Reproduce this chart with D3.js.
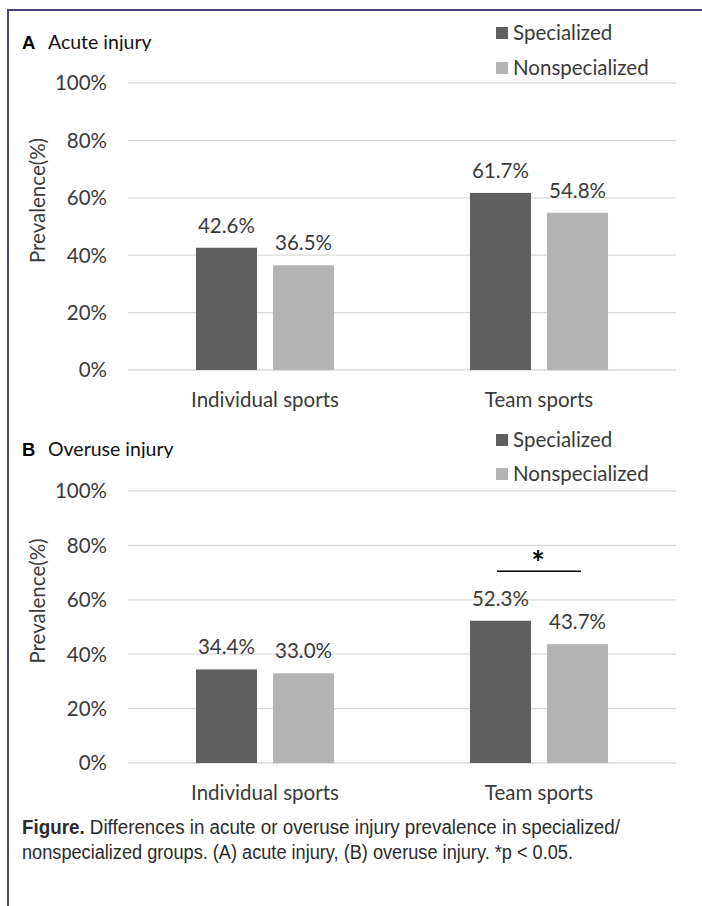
<!DOCTYPE html>
<html>
<head>
<meta charset="utf-8">
<script src="https://cdn.jsdelivr.net/npm/d3@7/dist/d3.min.js"></script>
<style>
  html, body { margin: 0; padding: 0; background: #fff; }
  svg { display: block; }
</style>
</head>
<body>
<svg id="fig" width="702" height="906"></svg>
<script>
// Categories, series and values (prevalence, %)
const categories = ["Individual sports", "Team sports"];
const seriesNames = ["Specialized", "Nonspecialized"];
const acuteSpecialized = [42.6, 61.7];
const acuteNonspecialized = [36.5, 54.8];
const overuseSpecialized = [34.4, 52.3];
const overuseNonspecialized = [33.0, 43.7];
const yTickValues = [0, 20, 40, 60, 80, 100];
const yTickLabels = ["0%", "20%", "40%", "60%", "80%", "100%"];

const colors = { "Specialized": "#5f5f5f", "Nonspecialized": "#b3b3b3" };
const chartFont = "Lato, 'Open Sans', sans-serif";
const textColor = "#3a3a3a";
const fs = 20.5;

const svg = d3.select("#fig");

// Frame: left and top rule
svg.append("path")
  .attr("d", "M8,906 L8,10 L702,10")
  .attr("fill", "none")
  .attr("stroke", "#4b3f7c")
  .attr("stroke-width", 2);

const defs = svg.append("defs");

// Shared horizontal scales
const x0 = d3.scaleBand()
  .domain(categories)
  .range([128, 676])
  .paddingInner(0.496)
  .paddingOuter(0.248);

const x1 = d3.scaleBand()
  .domain(seriesNames)
  .range([0, x0.bandwidth()])
  .paddingInner(0.208);

function drawPanel(cfg) {
  const g = svg.append("g");
  const y = d3.scaleLinear().domain([0, 100]).range([cfg.bottom, cfg.top]);

  // Gridlines
  g.selectAll("line.grid")
    .data(yTickValues)
    .join("line")
    .attr("x1", x0.range()[0])
    .attr("x2", x0.range()[1])
    .attr("y1", d => y(d))
    .attr("y2", d => y(d))
    .attr("stroke", "#d9d9d9")
    .attr("stroke-width", 1.3);

  // Y tick labels
  g.selectAll("text.tick")
    .data(yTickValues)
    .join("text")
    .attr("x", 107)
    .attr("y", d => y(d))
    .attr("dy", "0.36em")
    .attr("text-anchor", "end")
    .attr("font-family", chartFont)
    .attr("font-size", fs)
    .attr("fill", textColor)
    .text((d, i) => yTickLabels[i]);

  // Y axis title
  const midY = (cfg.top + cfg.bottom) / 2 - 26;
  g.append("text")
    .attr("transform", `translate(45,${midY}) rotate(-90)`)
    .attr("text-anchor", "middle")
    .attr("font-family", chartFont)
    .attr("font-size", fs)
    .attr("fill", textColor)
    .text("Prevalence(%)");

  // Bars and value labels
  const rows = [];
  categories.forEach((c, i) => {
    rows.push({ cat: c, series: "Specialized", value: cfg.specialized[i] });
    rows.push({ cat: c, series: "Nonspecialized", value: cfg.nonspecialized[i] });
  });

  g.selectAll("rect.bar")
    .data(rows)
    .join("rect")
    .attr("x", d => x0(d.cat) + x1(d.series))
    .attr("width", x1.bandwidth())
    .attr("y", d => y(d.value))
    .attr("height", d => y(0) - y(d.value))
    .attr("fill", d => colors[d.series]);

  g.selectAll("text.val")
    .data(rows)
    .join("text")
    .attr("x", d => x0(d.cat) + x1(d.series) + x1.bandwidth() / 2)
    .attr("y", d => y(d.value) - 15)
    .attr("text-anchor", "middle")
    .attr("font-family", chartFont)
    .attr("font-size", fs)
    .attr("fill", textColor)
    .text(d => d.value.toFixed(1) + "%");

  // Category labels
  g.selectAll("text.cat")
    .data(categories)
    .join("text")
    .attr("x", d => x0(d) + x0.bandwidth() / 2)
    .attr("y", cfg.bottom + 37)
    .attr("text-anchor", "middle")
    .attr("font-family", chartFont)
    .attr("font-size", fs)
    .attr("fill", textColor)
    .text(d => d);

  // Panel title (descenders trimmed by the chart area edge)
  const clipId = "clip-" + cfg.letter;
  defs.append("clipPath").attr("id", clipId)
    .append("rect")
    .attr("x", 0).attr("y", cfg.titleY - 30)
    .attr("width", 400).attr("height", 32);
  const title = g.append("g").attr("clip-path", `url(#${clipId})`);
  title.append("text")
    .attr("x", 22)
    .attr("y", cfg.titleY)
    .attr("font-family", "'Liberation Sans', Arial, sans-serif")
    .attr("font-weight", "bold")
    .attr("font-size", 18.5)
    .attr("fill", "#000")
    .text(cfg.letter);
  title.append("text")
    .attr("x", 48)
    .attr("y", cfg.titleY)
    .attr("font-family", chartFont)
    .attr("font-size", 19.5)
    .attr("fill", "#111")
    .text(cfg.title);

  // Legend
  const leg = g.selectAll("g.leg")
    .data(seriesNames)
    .join("g")
    .attr("transform", (d, i) => `translate(496,${cfg.legendY[i]})`);
  leg.append("rect")
    .attr("x", 0).attr("y", -6)
    .attr("width", 12).attr("height", 12)
    .attr("fill", d => colors[d]);
  leg.append("text")
    .attr("x", 17)
    .attr("y", 0)
    .attr("dy", "0.36em")
    .attr("font-family", chartFont)
    .attr("font-size", fs)
    .attr("fill", textColor)
    .text(d => d);

  // Significance marker
  if (cfg.significant) {
    const cx = x0(cfg.significant) + x0.bandwidth() / 2;
    const sy = y(cfg.sigLevel);
    g.append("line")
      .attr("x1", cx - 42).attr("x2", cx + 42)
      .attr("y1", sy).attr("y2", sy)
      .attr("stroke", "#000")
      .attr("stroke-width", 1.5);
    g.append("text")
      .attr("x", cx - 1)
      .attr("y", sy + 4)
      .attr("text-anchor", "middle")
      .attr("font-family", chartFont)
      .attr("font-weight", "bold")
      .attr("font-size", 32)
      .attr("fill", "#000")
      .text("*");
  }
}

drawPanel({
  letter: "A", title: "Acute injury", titleY: 49,
  top: 83, bottom: 370,
  specialized: acuteSpecialized, nonspecialized: acuteNonspecialized,
  legendY: [33, 68]
});

drawPanel({
  letter: "B", title: "Overuse injury", titleY: 456,
  top: 491, bottom: 763,
  specialized: overuseSpecialized, nonspecialized: overuseNonspecialized,
  legendY: [440, 474],
  significant: "Team sports", sigLevel: 70.5
});

// Caption
const capFont = "'Liberation Sans Narrow', 'Liberation Sans', Arial, sans-serif";
const cap1 = svg.append("text")
  .attr("x", 22).attr("y", 834)
  .attr("font-family", capFont)
  .attr("font-size", 19.5)
  .attr("fill", "#2b2b2b")
  .attr("textLength", 598)
  .attr("lengthAdjust", "spacingAndGlyphs");
cap1.append("tspan").attr("font-weight", "bold").text("Figure.");
cap1.append("tspan").text(" Differences in acute or overuse injury prevalence in specialized/");

svg.append("text")
  .attr("x", 22).attr("y", 859)
  .attr("font-family", capFont)
  .attr("font-size", 19.5)
  .attr("fill", "#2b2b2b")
  .attr("textLength", 551)
  .attr("lengthAdjust", "spacingAndGlyphs")
  .text("nonspecialized groups. (A) acute injury, (B) overuse injury. *p < 0.05.");
</script>
</body>
</html>
